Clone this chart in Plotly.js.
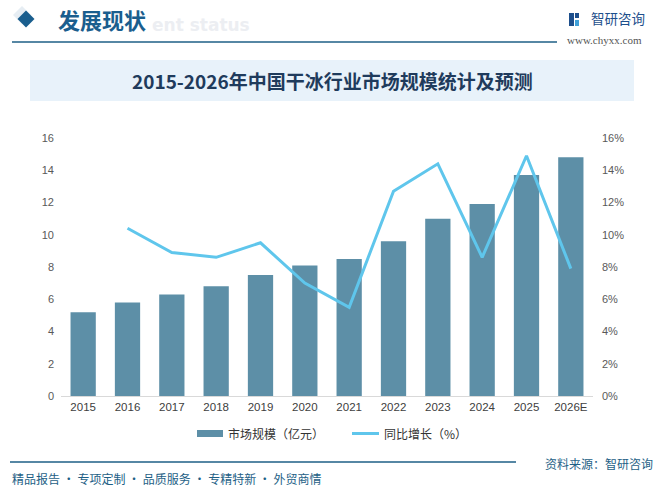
<!DOCTYPE html>
<html>
<head>
<meta charset="utf-8">
<script src="https://cdn.plot.ly/plotly-3.0.1.min.js"></script>
<style>html,body{margin:0;padding:0;background:#fff;}#chart{width:658px;height:495px;}</style>
</head>
<body>
<div id="chart"></div>
<script>
// ---- data ----
var years = ['2015','2016','2017','2018','2019','2020','2021','2022','2023','2024','2025','2026E'];
var marketSize = [5.2, 5.8, 6.3, 6.8, 7.5, 8.1, 8.5, 9.6, 11.0, 11.9, 13.7, 14.8];
var growth = [null, 0.104, 0.089, 0.086, 0.095, 0.070, 0.055, 0.127, 0.144, 0.086, 0.149, 0.079];
var leftTicks = [0,2,4,6,8,10,12,14,16];
var rightTicks = [0,0.02,0.04,0.06,0.08,0.10,0.12,0.14,0.16];
var seriesNames = ['市场规模（亿元）', '同比增长（%）'];
var titleText = '2015-2026年中国干冰行业市场规模统计及预测';
var headerText = '发展现状';
var footerLeft = '精品报告 · 专项定制 · 品质服务 · 专精特新 · 外贸商情';
var footerRight = '资料来源：智研咨询';

// ---- geometry helpers (pixel -> paper) ----
var W = 658, H = 495, L = 61, R = 65, T = 138, B = 99;
var PW = W - L - R, PH = H - T - B;
function px(x){ return (x - L) / PW; }
function py(y){ return (H - B - y) / PH; }

var barColor = '#5d8fa7', lineColor = '#5fc6ec', navy = '#1a5e8e';
var cjk = '"Noto Sans CJK SC", "Noto Sans", sans-serif';

var traces = [
  {type:'bar', x:years, y:marketSize, name:seriesNames[0], marker:{color:barColor}, yaxis:'y', hoverinfo:'skip'},
  {type:'scatter', mode:'lines', x:years, y:growth, name:seriesNames[1], line:{color:lineColor, width:3}, yaxis:'y2', connectgaps:false, hoverinfo:'skip'}
];

function rect(x0,y0,x1,y1,fill,line){
  return {type:'rect', xref:'paper', yref:'paper', x0:px(x0), x1:px(x1), y0:py(y0), y1:py(y1),
          fillcolor:fill, line:line||{width:0}, layer:'below'};
}
function hline(x0,x1,y,color,w){
  return {type:'line', xref:'paper', yref:'paper', x0:px(x0), x1:px(x1), y0:py(y), y1:py(y), line:{color:color, width:w||1.3}};
}
function diamond(cx,cy,r,fill){
  var p = 'M'+px(cx-r)+','+py(cy)+' L'+px(cx)+','+py(cy-r)+' L'+px(cx+r)+','+py(cy)+' L'+px(cx)+','+py(cy+r)+' Z';
  return {type:'path', xref:'paper', yref:'paper', path:p, fillcolor:fill, line:{width:0}};
}

var shapes = [
  diamond(22,15,9,'#e6edf3'),
  diamond(26,19,8.5,navy),
  hline(12,557,42,'#1e5f86',1.3),
  rect(30,60,634,101,'#e8f2fa'),
  // logo icon
  rect(569,13,574,26,'#1d4f8c'),
  rect(575,13,579,18,'#1d4f8c'),
  rect(575,20,579,26,'#3fa0d8'),
  hline(10,516,462,'#1e5f86',1.3),
  // legend swatches
  rect(197,430,223,437,barColor),
  hline(352,379,433.5,lineColor,3)
];

function ann(x,y,text,size,color,opts){
  var a = {xref:'paper', yref:'paper', x:px(x), y:py(y), text:text, showarrow:false,
           font:{family:cjk, size:size, color:color}, xanchor:'left', yanchor:'middle'};
  for (var k in (opts||{})) a[k] = opts[k];
  return a;
}

var annotations = [
  ann(150,25,'<b>ent status</b>',17,'#eceef2',{font:{family:'"DejaVu Sans", sans-serif', size:17, color:'#eceef2'}}),
  ann(56,19,'<b>'+headerText+'</b>',22,navy,{font:{family:cjk, size:22, color:navy}}),
  ann(589,18,'智研咨询',13.5,'#1d4f8c'),
  ann(565,40,'www.chyxx.com',11,'#555',{font:{family:'"Liberation Serif", serif', size:11, color:'#555'}}),
  ann(332,80.5,'<b>'+titleText+'</b>',19,'#1f3b5c',{xanchor:'center'}),
  ann(226,433.5,seriesNames[0],12,'#333'),
  ann(382,433.5,seriesNames[1],12,'#333'),
  ann(655,463,footerRight,12,'#1e5f86',{xanchor:'right'}),
  ann(10,478,footerLeft,12,'#1e5f86')
];

var tickFont = {family:'"Liberation Sans", "Noto Sans", sans-serif', size:11, color:'#595959'};

var layout = {
  width:W, height:H,
  margin:{l:L, r:R, t:T, b:B, pad:0},
  paper_bgcolor:'#ffffff', plot_bgcolor:'rgba(0,0,0,0)',
  showlegend:false,
  bargap:0.43,
  xaxis:{type:'category', showgrid:false, zeroline:false, showline:true, linecolor:'#d9d9d9', linewidth:1,
         ticks:'', tickfont:{family:'"Liberation Sans", sans-serif', size:11.5, color:'#404040'}, fixedrange:true},
  yaxis:{range:[0,16], tickvals:leftTicks, showgrid:false, zeroline:false, showline:false, ticks:'',
         tickfont:tickFont, ticklabelstandoff:6, fixedrange:true},
  yaxis2:{range:[0,0.16], tickvals:rightTicks, tickformat:'.0%', overlaying:'y', side:'right', showgrid:false,
          zeroline:false, showline:false, ticks:'', tickfont:tickFont, ticklabelstandoff:8, fixedrange:true},
  shapes:shapes,
  annotations:annotations
};

Plotly.newPlot('chart', traces, layout, {displayModeBar:false, staticPlot:true});
</script>
</body>
</html>
